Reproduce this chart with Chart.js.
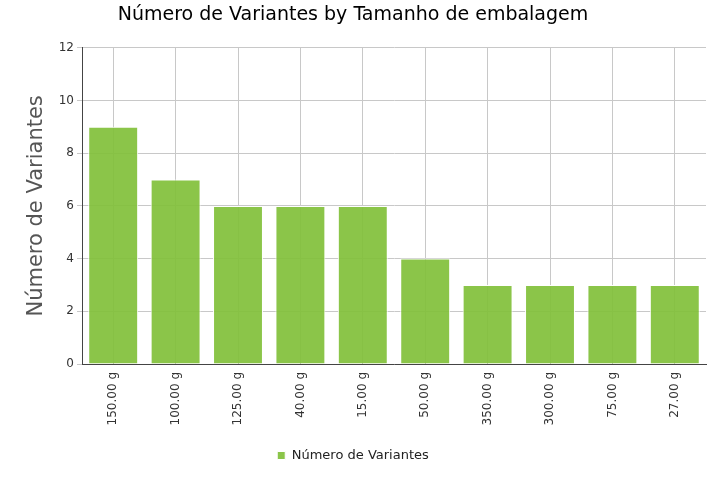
<!DOCTYPE html>
<html>
<head>
<meta charset="utf-8">
<script src="https://cdn.jsdelivr.net/npm/chart.js@4/dist/chart.umd.min.js"></script>
<style>
  html, body { margin: 0; padding: 0; background: #fff; }
  #wrap { width: 715px; height: 500px; }
</style>
</head>
<body>
<div id="wrap"><canvas id="c" width="715" height="500"></canvas></div>
<script>
const categories = ["150.00 g", "100.00 g", "125.00 g", "40.00 g", "15.00 g", "50.00 g", "350.00 g", "300.00 g", "75.00 g", "27.00 g"];
const seriesName = "Número de Variantes";
const variantes = [9, 7, 6, 6, 6, 4, 3, 3, 3, 3];
const yTicks = [0, 2, 4, 6, 8, 10, 12];
const chartTitle = "Número de Variantes by Tamanho de embalagem";

const FONT = "'DejaVu Sans', Verdana, sans-serif";
const gridColor = "#c8c8c8";

new Chart(document.getElementById('c'), {
  type: 'bar',
  data: {
    labels: categories,
    datasets: [{
      label: seriesName,
      data: variantes,
      backgroundColor: 'rgba(129,192,58,0.92)',
      borderColor: '#ffffff',
      borderWidth: 1,
      barPercentage: 0.8,
      categoryPercentage: 1.0
    }]
  },
  options: {
    responsive: false,
    animation: false,
    layout: { padding: { left: 0, right: 9, top: 0, bottom: 28 } },
    plugins: {
      title: {
        display: true,
        text: chartTitle,
        color: '#000',
        font: { family: FONT, size: 19, weight: 'normal' },
        padding: { top: 4, bottom: 21 }
      },
      legend: {
        display: true,
        position: 'bottom',
        labels: {
          color: '#222',
          font: { family: FONT, size: 13 },
          boxWidth: 8,
          boxHeight: 8,
          padding: 10
        }
      },
      tooltip: { enabled: false }
    },
    scales: {
      x: {
        grid: {
          display: true,
          color: gridColor,
          offset: false,
          drawTicks: false
        },
        border: { display: true, color: '#444', width: 1 },
        ticks: {
          color: '#333',
          font: { family: FONT, size: 12 },
          minRotation: 90,
          maxRotation: 90,
          padding: 8,
          autoSkip: false
        },
        afterFit: (s) => { s.height = 75; }
      },
      y: {
        min: 0,
        max: 12,
        afterBuildTicks: (s) => { s.ticks = yTicks.map(v => ({ value: v })); },
        grid: {
          color: gridColor,
          drawTicks: true,
          tickLength: 5,
          tickColor: gridColor
        },
        border: { display: true, color: '#444', width: 1 },
        ticks: {
          color: '#333',
          font: { family: FONT, size: 12 },
          padding: 3
        },
        title: {
          display: true,
          text: seriesName,
          color: '#555',
          font: { family: FONT, size: 21 },
          padding: { top: 24, bottom: 0 }
        },
        afterFit: (s) => { s.width = 82; }
      }
    }
  }
});
</script>
</body>
</html>
